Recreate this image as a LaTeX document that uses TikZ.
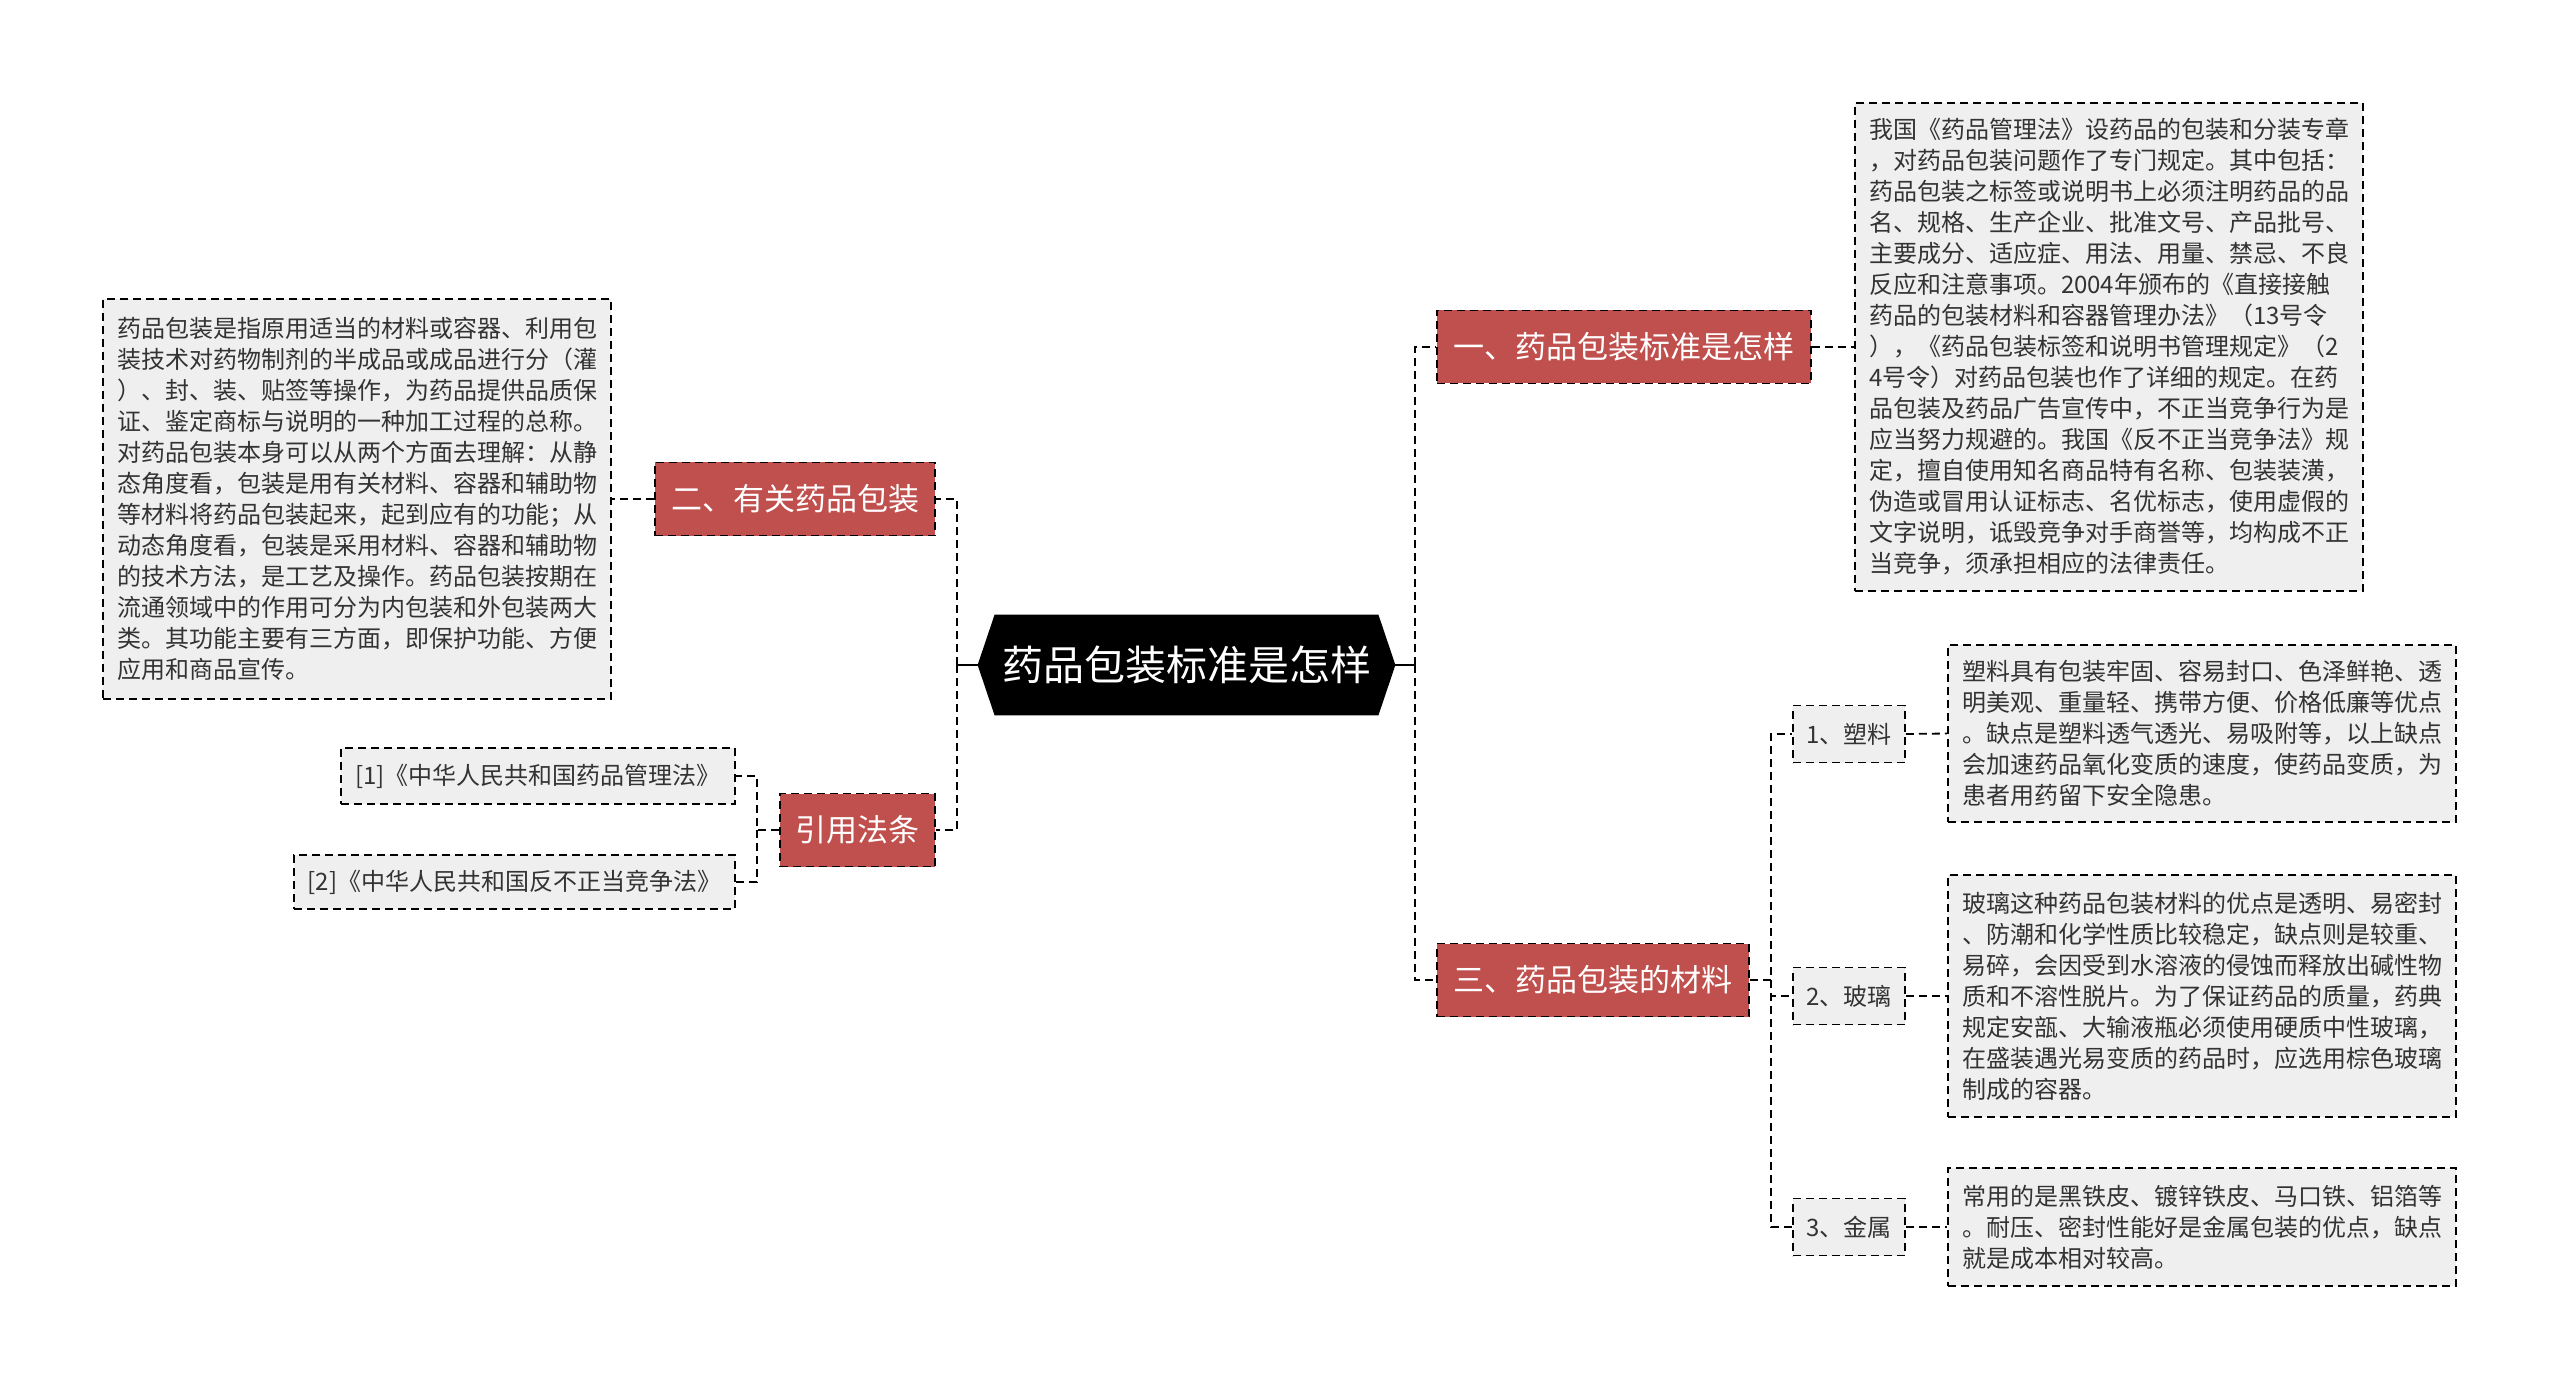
\documentclass[tikz,border=0pt]{standalone}
\usepackage{fontspec}
\setmainfont{Noto Sans CJK SC}
\usepackage{xcolor}
\usetikzlibrary{calc, backgrounds}
\definecolor{branchred}{HTML}{C0504D}
\definecolor{notegray}{HTML}{EFEFEF}
\definecolor{notetext}{HTML}{333333}

\begin{document}
\begin{tikzpicture}[x=0.5pt,y=-0.5pt]
 \tikzstyle{rootbox}=[rectangle,minimum width=191.5pt,minimum height=50pt,
   text=white,font=\fontsize{20.5}{24}\selectfont,inner sep=0pt]
 \tikzstyle{branchbox}=[rectangle,draw=black,dash pattern=on 4pt off 2.5pt,line width=0.9pt,
   fill=branchred,text=white,font=\fontsize{15.5}{18}\selectfont,minimum height=36.5pt,inner sep=0pt]
 \tikzstyle{notebox}=[rectangle,draw=black,dash pattern=on 4pt off 2.5pt,line width=0.9pt,
   fill=notegray,text=notetext,font=\fontsize{12}{15.5}\selectfont,align=left,
   minimum width=254pt,inner sep=0pt]
 \tikzstyle{itembox}=[notebox,minimum width=56pt,minimum height=28.5pt]
 \tikzstyle{link}=[draw=black,dash pattern=on 4pt off 2.5pt,line width=0.9pt]
 \tikzstyle{trunk}=[draw=black,line width=1.2pt]
 \useasboundingbox (0,0) rectangle (2560,1390);

 \node (root) [rootbox] at (1186.5,665) {药品包装标准是怎样};
 \coordinate (rtip) at ($(root.east)+(17,0)$);
 \coordinate (ltip) at ($(root.west)+(-17,0)$);
 \begin{scope}[on background layer]
  \fill[white] (0,0) rectangle (2560,1390);
  \fill[black] (root.north west) -- (root.north east) -- (rtip) -- (root.south east)
    -- (root.south west) -- (ltip) -- cycle;
 \end{scope}

 % right side
 \node (b1) [branchbox,minimum width=187pt] at (1624,347) {一、药品包装标准是怎样};
 \node (b3) [branchbox,minimum width=156pt] at (1593,980) {三、药品包装的材料};
 \node (t1) [notebox,minimum height=244pt] at (2109,347)
   {我国《药品管理法》设药品的包装和分装专章\\
    ，对药品包装问题作了专门规定。其中包括：\\
    药品包装之标签或说明书上必须注明药品的品\\
    名、规格、生产企业、批准文号、产品批号、\\
    主要成分、适应症、用法、用量、禁忌、不良\\
    反应和注意事项。2004年颁布的《直接接触\\
    药品的包装材料和容器管理办法》（13号令\\
    ），《药品包装标签和说明书管理规定》（2\\
    4号令）对药品包装也作了详细的规定。在药\\
    品包装及药品广告宣传中，不正当竞争行为是\\
    应当努力规避的。我国《反不正当竞争法》规\\
    定，擅自使用知名商品特有名称、包装装潢，\\
    伪造或冒用认证标志、名优标志，使用虚假的\\
    文字说明，诋毁竞争对手商誉等，均构成不正\\
    当竞争，须承担相应的法律责任。};
 \node (s1) [itembox] at (1849,734) {1、塑料};
 \node (s2) [itembox] at (1849,996) {2、玻璃};
 \node (s3) [itembox] at (1849,1227) {3、金属};
 \node (d1) [notebox,minimum height=88.5pt] at (2202,733.5)
   {塑料具有包装牢固、容易封口、色泽鲜艳、透\\
    明美观、重量轻、携带方便、价格低廉等优点\\
    。缺点是塑料透气透光、易吸附等，以上缺点\\
    会加速药品氧化变质的速度，使药品变质，为\\
    患者用药留下安全隐患。};
 \node (d2) [notebox,minimum height=121pt] at (2202,996)
   {玻璃这种药品包装材料的优点是透明、易密封\\
    、防潮和化学性质比较稳定，缺点则是较重、\\
    易碎，会因受到水溶液的侵蚀而释放出碱性物\\
    质和不溶性脱片。为了保证药品的质量，药典\\
    规定安瓿、大输液瓶必须使用硬质中性玻璃，\\
    在盛装遇光易变质的药品时，应选用棕色玻璃\\
    制成的容器。};
 \node (d3) [notebox,minimum height=59pt] at (2202,1227)
   {常用的是黑铁皮、镀锌铁皮、马口铁、铝箔等\\
    。耐压、密封性能好是金属包装的优点，缺点\\
    就是成本相对较高。};

 % left side
 \node (b2) [branchbox,minimum width=140pt] at (795,499) {二、有关药品包装};
 \node (b4) [branchbox,minimum width=77.5pt] at (857.5,830) {引用法条};
 \node (t2) [notebox,minimum height=200pt] at (357,499)
   {药品包装是指原用适当的材料或容器、利用包\\
    装技术对药物制剂的半成品或成品进行分（灌\\
    ）、封、装、贴签等操作，为药品提供品质保\\
    证、鉴定商标与说明的一种加工过程的总称。\\
    对药品包装本身可以从两个方面去理解：从静\\
    态角度看，包装是用有关材料、容器和辅助物\\
    等材料将药品包装起来，起到应有的功能；从\\
    动态角度看，包装是采用材料、容器和辅助物\\
    的技术方法，是工艺及操作。药品包装按期在\\
    流通领域中的作用可分为内包装和外包装两大\\
    类。其功能主要有三方面，即保护功能、方便\\
    应用和商品宣传。};
 \node (r1) [itembox,minimum width=197pt,minimum height=28pt] at (538,776)
   {[1]《中华人民共和国药品管理法》};
 \node (r2) [itembox,minimum width=220.5pt,minimum height=27pt] at (514.5,882)
   {[2]《中华人民共和国反不正当竞争法》};

 % connectors
 \coordinate (rj) at (1415,665);
 \coordinate (lj) at (957,665);
 \coordinate (mj) at (1771,980);
 \coordinate (cj) at (757,830);
 \draw[trunk] (rtip) -- (rj);
 \draw[trunk] (ltip) -- (lj);
 \draw[link] (rj) |- (b1.west);
 \draw[link] (rj) |- (b3.west);
 \draw[link] (lj) |- (b2.east);
 \draw[link] (lj) |- (b4.east);
 \draw[link] (b1.east) -- (t1.west);
 \draw[link] (b2.west) -- (t2.east);
 \draw[link] (b3.east) -- (mj) |- (s1.west);
 \draw[link] (mj) |- (s2.west);
 \draw[link] (mj) |- (s3.west);
 \draw[link] (s1.east) -- (d1.west);
 \draw[link] (s2.east) -- (d2.west);
 \draw[link] (s3.east) -- (d3.west);
 \draw[link] (b4.west) -- (cj) |- (r1.east);
 \draw[link] (cj) |- (r2.east);
\end{tikzpicture}
\end{document}
